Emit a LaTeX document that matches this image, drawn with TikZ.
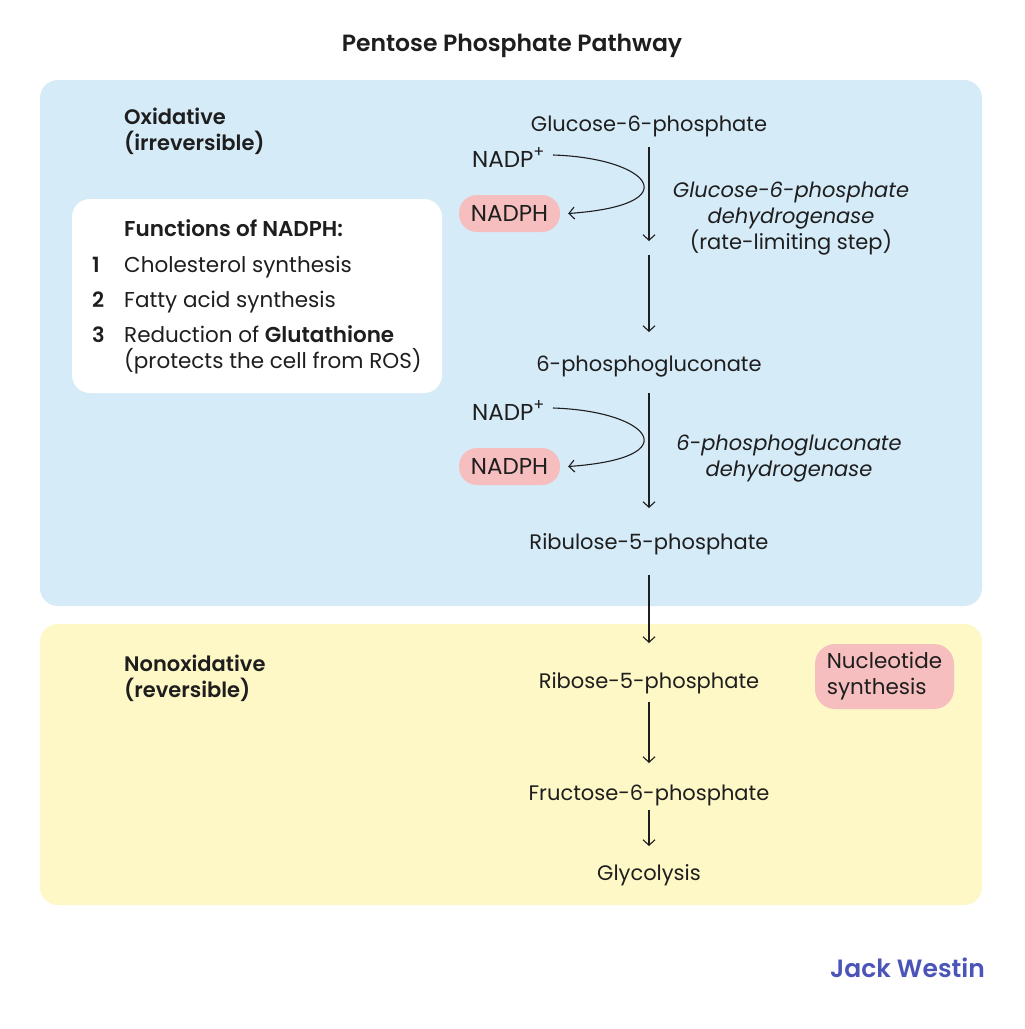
\documentclass[tikz,border=0pt]{standalone}
\usepackage{fontspec}
\setmainfont{Poppins}[BoldFont={Poppins SemiBold}]
\usetikzlibrary{arrows.meta}
\definecolor{bluebg}{HTML}{D5EBF8}
\definecolor{yellowbg}{HTML}{FEF7C6}
\definecolor{pinkpill}{HTML}{F7BEBF}
\definecolor{jwblue}{HTML}{4B54B8}
\definecolor{ink}{HTML}{1E1E1E}
\tikzset{
  txt/.style={anchor=base, inner sep=0pt, font=\fontsize{21}{25}\selectfont, text=ink},
  lbl/.style={txt, anchor=base west},
  hdr/.style={lbl, font=\fontsize{21}{25}\selectfont\bfseries},
  pill/.style={fill=pinkpill, rounded corners=18pt, inner sep=0pt, font=\fontsize{23}{27}\selectfont, text=ink},
  arr/.style={draw=ink, line width=1.1pt, -{Straight Barb[length=5.5pt,width=12pt,line width=1.1pt]}},
  panel/.style={rounded corners=18pt, draw=none}
}
\begin{document}
\begin{tikzpicture}[x=1pt,y=-1pt]
\useasboundingbox (0,0) rectangle (1025,1029);
\fill[white] (0,0) rectangle (1025,1029);
% panels
\fill[bluebg, panel] (40,80) rectangle (982,606);
\fill[yellowbg, panel] (40,624) rectangle (982,905);
\fill[white, panel] (72,199) rectangle (442,393);
% title
\node[txt, font=\fontsize{23.5}{27}\selectfont\bfseries] (title) at (512,51) {Pentose Phosphate Pathway};
% section headers
\node[hdr] (ox1) at (124,124) {Oxidative};
\node[hdr] (ox2) at (124,150) {(irreversible)};
\node[hdr] (non1) at (124,671) {Nonoxidative};
\node[hdr] (non2) at (124,697) {(reversible)};
% functions box
\node[hdr, font=\fontsize{21.5}{26}\selectfont\bfseries] (fn) at (124,236) {Functions of NADPH:};
\node[hdr] (n1) at (92,272) {1};
\node[hdr] (n2) at (92,307) {2};
\node[hdr] (n3) at (92,342) {3};
\node[lbl, font=\fontsize{21.5}{25}\selectfont] (f1) at (124,272) {Cholesterol synthesis};
\node[lbl, font=\fontsize{21.5}{25}\selectfont] (f2) at (124,307) {Fatty acid synthesis};
\node[lbl, font=\fontsize{21.5}{25}\selectfont] (f3) at (124,342) {Reduction of \textbf{Glutathione}};
\node[lbl, font=\fontsize{21.5}{25}\selectfont] (f4) at (124,368) {(protects the cell from ROS)};
% metabolites
\node[txt] (g6p) at (649,131) {Glucose-6-phosphate};
\node[txt] (pg6) at (649,371) {6-phosphogluconate};
\node[txt] (ru5p) at (649,549) {Ribulose-5-phosphate};
\node[txt] (r5p) at (649,688) {Ribose-5-phosphate};
\node[txt] (f6p) at (649,800) {Fructose-6-phosphate};
\node[txt] (gly) at (649,880) {Glycolysis};
% enzymes
\node[txt] (e1a) at (791,197) {\itshape Glucose-6-phosphate};
\node[txt] (e1b) at (791,223) {\itshape dehydrogenase};
\node[txt] (e1c) at (791,249) {(rate-limiting step)};
\node[txt] (e2a) at (789,450) {\itshape 6-phosphogluconate};
\node[txt] (e2b) at (789,476) {\itshape dehydrogenase};
% cofactors
\node[lbl, font=\fontsize{23}{27}\selectfont] (nadp1) at (472,167) {NADP\textsuperscript{+}};
\node[pill, minimum width=101pt, minimum height=37pt] (nadph1) at (509.5,213.5) {NADPH};
\node[lbl, font=\fontsize{23}{27}\selectfont] (nadp2) at (472,420) {NADP\textsuperscript{+}};
\node[pill, minimum width=101pt, minimum height=37pt] (nadph2) at (509.5,466.5) {NADPH};
\node[pill, minimum width=139pt, minimum height=65pt, rounded corners=20pt, align=left, font=\fontsize{21.5}{26}\selectfont] (nuc) at (884.5,676.5) {Nucleotide\\synthesis};
% logo
\node[txt, anchor=base east, text=jwblue, font=\fontsize{25}{30}\selectfont\bfseries] (logo) at (985,977) {Jack Westin};
% arrow coordinates
\coordinate (a1s) at (649,147); \coordinate (a1e) at (649,241);
\coordinate (a2s) at (649,255); \coordinate (a2e) at (649,332);
\coordinate (a3s) at (649,393); \coordinate (a3e) at (649,508);
\coordinate (a4s) at (649,575); \coordinate (a4e) at (649,643);
\coordinate (a5s) at (649,702); \coordinate (a5e) at (649,763);
\coordinate (a6s) at (649,810); \coordinate (a6e) at (649,846);
\draw[arr] (a1s) -- (a1e);
\draw[arr] (a2s) -- (a2e);
\draw[arr] (a3s) -- (a3e);
\draw[arr] (a4s) -- (a4e);
\draw[arr] (a5s) -- (a5e);
\draw[arr] (a6s) -- (a6e);
% cofactor curves
\coordinate (c1s) at (553,155); \coordinate (c2s) at (553,408);
\draw[arr] (c1s) .. controls (650,158) and (690,205) .. ([xshift=8pt]nadph1.east);
\draw[arr] (c2s) .. controls (650,411) and (690,458) .. ([xshift=8pt]nadph2.east);
\end{tikzpicture}
\end{document}
